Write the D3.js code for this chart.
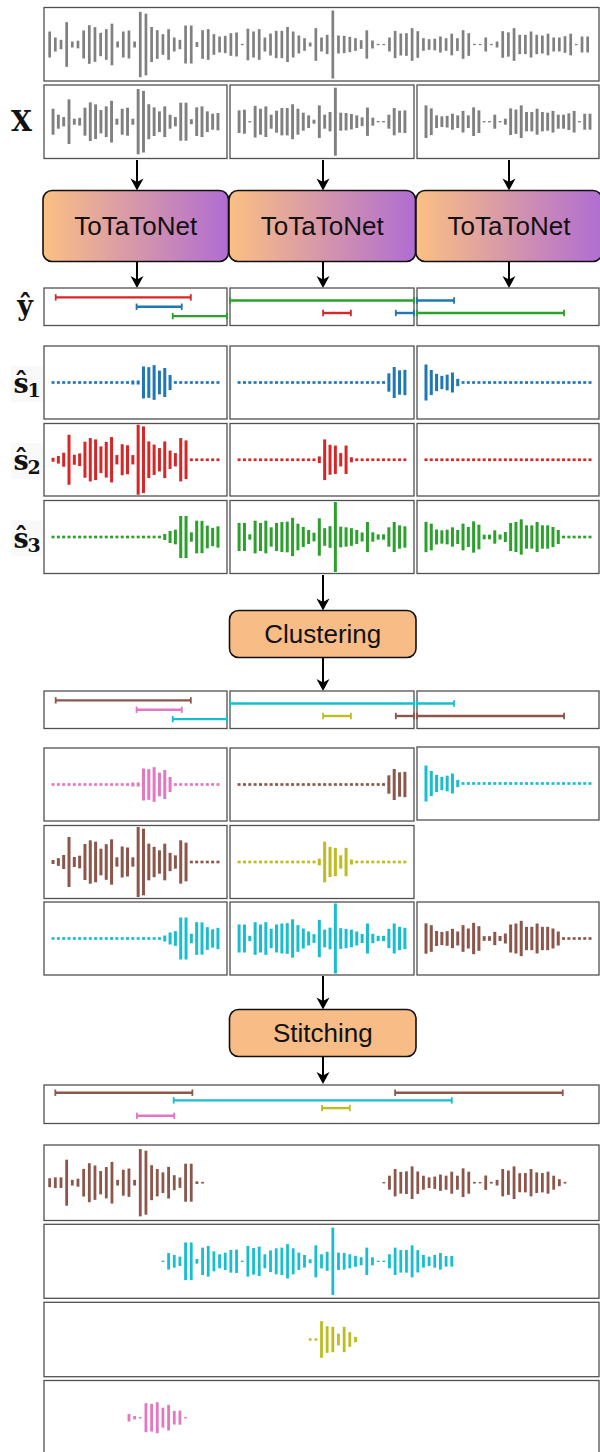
<!DOCTYPE html>
<html>
<head>
<meta charset="utf-8">
<script src="https://cdn.jsdelivr.net/npm/d3@7"></script>
<style>
  html, body { margin: 0; padding: 0; background: #fff; }
  svg { display: block; }
</style>
</head>
<body>
<div id="chart"></div>
<script>
// mixture, split in three chunks of 32 samples (amplitudes, arbitrary units)
const mixChunk1 = [78,42,28,134,18,23,84,116,104,70,92,125,18,78,84,18,196,185,105,86,62,92,42,28,114,114,15,86,92,62,48,52];
const mixChunk2 = [68,72,4,95,78,92,42,66,82,82,105,78,54,38,12,98,42,58,204,54,52,46,38,26,85,24,4,4,42,82,66,68];
const mixChunk3 = [98,80,38,32,35,48,38,65,38,86,68,4,4,42,4,18,80,73,98,58,58,78,58,54,65,42,42,50,65,4,48,48];

// separated sources per chunk
const s1Chunk1 = [8,8,8,8,8,8,8,8,8,8,8,8,8,8,8,12,12,96,92,104,71,87,45,8,8,8,8,8,8,8,8,8];
const s1Chunk2 = [8,8,8,8,8,8,8,8,8,8,8,8,8,8,8,8,8,8,8,8,8,8,8,8,8,8,8,8,55,93,73,76];
const s1Chunk3 = [108,75,52,40,47,60,22,8,8,8,8,8,8,8,8,8,8,8,8,8,8,8,8,8,8,8,8,8,8,8,8,8];
const s2Chunk1 = [12,23,42,150,30,38,108,130,122,80,107,136,28,93,87,28,210,200,110,91,70,110,55,40,130,116,8,8,8,8,8,8];
const s2Chunk2 = [8,8,8,8,8,8,8,8,8,8,8,8,8,8,8,20,122,90,85,40,85,15,8,8,8,8,8,8,8,8,8,8];
const s2Chunk3 = [8,8,8,8,8,8,8,8,8,8,8,8,8,8,8,8,8,8,8,8,8,8,8,8,8,8,8,8,8,8,8,8];
const s3Chunk1 = [8,8,8,8,8,8,8,8,8,8,8,8,8,8,8,8,8,8,8,8,8,18,36,44,126,126,28,98,97,68,55,64];
const s3Chunk2 = [84,84,16,98,84,98,58,84,90,92,115,80,60,42,26,112,53,65,210,62,58,53,42,27,90,28,16,16,58,90,70,64];
const s3Chunk3 = [91,80,45,40,44,58,42,80,60,94,74,14,14,40,15,30,84,90,106,70,70,90,70,70,60,42,8,8,8,8,8,8];

// activity intervals predicted per chunk (sample units inside the chunk)
const spanChunk  = [0, 0, 0, 1, 1, 1, 2, 2];
const spanSource = [1, 0, 2, 2, 1, 0, 0, 2];   // 0 = s1, 1 = s2, 2 = s3
const spanRow    = [0, 1, 2, 0, 1, 1, 0, 1];
const spanStart  = [0.5, 15.7, 22.5, -1.7, 15.7, 29.3, -1.7, -1.7];
const spanEnd    = [25.9, 24.2, 32.7, 32.7, 20.9, 32.7, 5.3, 26.1];

// cluster assigned to each (chunk, source)
const clusterChunk1 = ['pink', 'brown', 'cyan'];
const clusterChunk2 = ['brown', 'olive', 'cyan'];
const clusterChunk3 = ['cyan', null, 'brown'];

// stitched outputs (global sample index = start + position)
const stitchBrownA = [27,32,32,138,17,24,83,117,103,70,94,125,17,78,85,17,202,192,105,82,62,95,45,31,114,114,8,5];
const stitchBrownB = [4,42,82,65,68,98,67,42,32,37,49,42,66,42,86,66,5,4,43,5,17,82,73,98,57,58,82,62,58,66,42,21,5];
const stitchCyan   = [4,50,38,28,113,113,14,82,92,60,42,52,68,70,4,92,80,88,42,65,78,82,103,78,52,38,12,96,42,57,202,52,50,42,33,24,82,24,4,4,42,82,68,68,96,67,38,28,38,50,32,32];
const stitchOlive  = [7,7,110,80,76,35,76,44,16];
const stitchPink   = [23,10,4,87,83,93,60,77,41,42,4];
const stitchStart  = { brownA: 0, brownB: 59, cyan: 20, olive: 46, pink: 14 };

const stitchSpanCluster = ['brown', 'brown', 'cyan', 'olive', 'pink'];
const stitchSpanRow     = [0, 0, 1, 2, 3];
const stitchSpanStart   = [1.0, 61, 21.9, 48.1, 15.4];
const stitchSpanEnd     = [25.2, 90.6, 71, 53, 22];

// ---- styles ----
const srcColor = ['#1f77b4', '#d62728', '#2ca02c'];
const clColor = { brown: '#8c564b', pink: '#e377c2', olive: '#bcbd22', cyan: '#17becf' };
const mixColor = '#808080';

const W = 600, H = 1452;
const cols = [[44, 227], [230, 414], [417, 599]];
const full = [44, 599];

const svg = d3.select('#chart').append('svg').attr('width', W).attr('height', H);

const defs = svg.append('defs');
const grad = defs.append('linearGradient').attr('id', 'netGrad');
grad.append('stop').attr('offset', '0%').attr('stop-color', '#fbc083');
grad.append('stop').attr('offset', '100%').attr('stop-color', '#b06dd2');

const amp = d3.scaleLinear().domain([0, 210]).range([0, 70]);
const chunkX = c => d3.scaleLinear().domain([-1.7, 32.7]).range(cols[c]);
const fullX = d3.scaleLinear().domain([-1, 97]).range(full);

function box(x0, y0, x1, y1) {
    svg.append('rect')
        .attr('x', x0).attr('y', y0)
        .attr('width', x1 - x0).attr('height', y1 - y0)
        .attr('fill', '#fff')
        .attr('stroke', '#515151')
        .attr('stroke-width', 1.3);
}

function wave(values, offset, x, cy, color, bw) {
    svg.append('g').selectAll('rect')
        .data(values.map((v, i) => ({ i: i + offset, v })))
        .join('rect')
        .attr('x', d => x(d.i) - bw / 2)
        .attr('y', d => cy - amp(d.v) / 2)
        .attr('width', bw)
        .attr('height', d => amp(d.v))
        .attr('fill', color);
}

function spans(items, x, y0, y1) {
    const nRows = d3.max(items, d => d.row) + 1;
    const y = d3.scalePoint().domain(d3.range(nRows)).range([y0, y1]).padding(1);
    const g = svg.append('g');
    items.forEach(d => {
        const yy = y(d.row);
        g.append('line')
            .attr('x1', x(d.start)).attr('x2', x(d.end))
            .attr('y1', yy).attr('y2', yy)
            .attr('stroke', d.color).attr('stroke-width', 2.4);
        [d.start, d.end].forEach(t => {
            g.append('line')
                .attr('x1', x(t)).attr('x2', x(t))
                .attr('y1', yy - 3.2).attr('y2', yy + 3.2)
                .attr('stroke', d.color).attr('stroke-width', 1.8);
        });
    });
}

function arrow(x, y0, y1) {
    svg.append('line')
        .attr('x1', x).attr('x2', x)
        .attr('y1', y0).attr('y2', y1 - 8)
        .attr('stroke', '#000').attr('stroke-width', 2);
    svg.append('path')
        .attr('d', `M${x},${y1} L${x - 6.5},${y1 - 12} L${x},${y1 - 8.5} L${x + 6.5},${y1 - 12} Z`)
        .attr('fill', '#000');
}

function block(x0, y0, x1, y1, fill, label) {
    svg.append('rect')
        .attr('x', x0).attr('y', y0)
        .attr('width', x1 - x0).attr('height', y1 - y0)
        .attr('rx', 9).attr('ry', 9)
        .attr('fill', fill)
        .attr('stroke', '#111').attr('stroke-width', 1.6);
    svg.append('text')
        .attr('x', (x0 + x1) / 2).attr('y', (y0 + y1) / 2 + 9)
        .attr('text-anchor', 'middle')
        .attr('font-family', '"Liberation Sans", Arial, sans-serif')
        .attr('font-size', 26)
        .attr('fill', '#111')
        .text(label);
}

function mathLabel(x, baseline, main, sub) {
    const g = svg.append('g').attr('font-family', '"DejaVu Serif", serif').attr('font-weight', 'bold');
    if (sub) {
        g.append('rect').attr('x', x - 10).attr('y', baseline - 27).attr('width', 32).attr('height', 36).attr('fill', '#f9f9f9');
    }
    g.append('text').attr('x', x).attr('y', baseline).attr('text-anchor', 'middle')
        .attr('font-size', 27).attr('fill', '#111').text(main);
    if (sub) {
        g.append('text').attr('x', x + 13).attr('y', baseline + 4).attr('text-anchor', 'middle')
            .attr('font-size', 19).attr('fill', '#111').text(sub);
    }
}

const mixChunks = [mixChunk1, mixChunk2, mixChunk3];
const sources = [
    [s1Chunk1, s1Chunk2, s1Chunk3],
    [s2Chunk1, s2Chunk2, s2Chunk3],
    [s3Chunk1, s3Chunk2, s3Chunk3]
];
const clusters = [clusterChunk1, clusterChunk2, clusterChunk3];
const arrowX = [137, 323, 509];

// ---- mixture ----
box(full[0], 7.5, full[1], 81);
wave([].concat(mixChunk1, mixChunk2, mixChunk3), 0, fullX, 44.5, mixColor, 2.7);

mathLabel(21.5, 131, 'X');
cols.forEach((c, k) => {
    box(c[0], 85, c[1], 158.5);
    wave(mixChunks[k], 0, chunkX(k), 121.7, mixColor, 2.9);
});

// ---- separation ----
arrowX.forEach((x, k) => {
    arrow(x, 160, 190.5);
    block(cols[k][0] - 1, 190.5, k === 2 ? 602 : cols[k][1] + 1.5, 261.5, 'url(#netGrad)', 'ToTaToNet');
    arrow(x, 262, 288);
});

const rawSpans = spanChunk.map((c, i) => ({
    chunk: c, source: spanSource[i], row: spanRow[i], start: spanStart[i], end: spanEnd[i]
}));

mathLabel(25, 315, 'ŷ');
cols.forEach((c, k) => {
    box(c[0], 288, c[1], 325.5);
    spans(rawSpans.filter(d => d.chunk === k).map(d => ({ ...d, color: srcColor[d.source] })),
        chunkX(k), 288, 325.5);
});

const sRowY = [[346, 419], [423.5, 496], [500.5, 573.5]];
const sLabels = ['1', '2', '3'];
sRowY.forEach((r, s) => {
    mathLabel(21, (r[0] + r[1]) / 2 + 10.5, 'ŝ', sLabels[s]);
    cols.forEach((c, k) => {
        box(c[0], r[0], c[1], r[1]);
        wave(sources[s][k], 0, chunkX(k), (r[0] + r[1]) / 2, srcColor[s], 3);
    });
});

// ---- clustering ----
arrow(323, 575, 610.5);
block(229.5, 610.5, 416, 657.5, '#f8bd86', 'Clustering');
arrow(323, 658, 691);

cols.forEach((c, k) => {
    box(c[0], 691, c[1], 728.5);
    spans(rawSpans.filter(d => d.chunk === k).map(d => ({ ...d, color: clColor[clusters[k][d.source]] })),
        chunkX(k), 691, 728.5);
});

const cRowY = [[748, 821], [825.5, 898.5], [902, 975]];
cRowY.forEach((r, s) => {
    cols.forEach((c, k) => {
        const cl = clusters[k][s];
        if (!cl) return;
        const y0 = (k === 2 && s === 0) ? r[0] - 1 : r[0];
        const y1 = (k === 2 && s === 0) ? r[1] - 1 : r[1];
        box(c[0], y0, c[1], y1);
        wave(sources[s][k], 0, chunkX(k), (y0 + y1) / 2, clColor[cl], 3);
    });
});

// ---- stitching ----
arrow(323, 976, 1009.5);
block(229.5, 1009.5, 416, 1056.5, '#f8bd86', 'Stitching');
arrow(323, 1057, 1084);

box(full[0], 1085, full[1], 1123.5);
spans(stitchSpanCluster.map((cl, i) => ({
    row: stitchSpanRow[i], start: stitchSpanStart[i], end: stitchSpanEnd[i], color: clColor[cl]
})), fullX, 1085, 1123.5);

box(full[0], 1145, full[1], 1220.5);
wave(stitchBrownA, stitchStart.brownA, fullX, 1182.7, clColor.brown, 2.8);
wave(stitchBrownB, stitchStart.brownB, fullX, 1182.7, clColor.brown, 2.8);

box(full[0], 1224.3, full[1], 1298.3);
wave(stitchCyan, stitchStart.cyan, fullX, 1261.3, clColor.cyan, 2.8);

box(full[0], 1302.3, full[1], 1376.7);
wave(stitchOlive, stitchStart.olive, fullX, 1339.5, clColor.olive, 2.8);

box(full[0], 1380.5, full[1], 1455);
wave(stitchPink, stitchStart.pink, fullX, 1417.7, clColor.pink, 2.8);
</script>
</body>
</html>
